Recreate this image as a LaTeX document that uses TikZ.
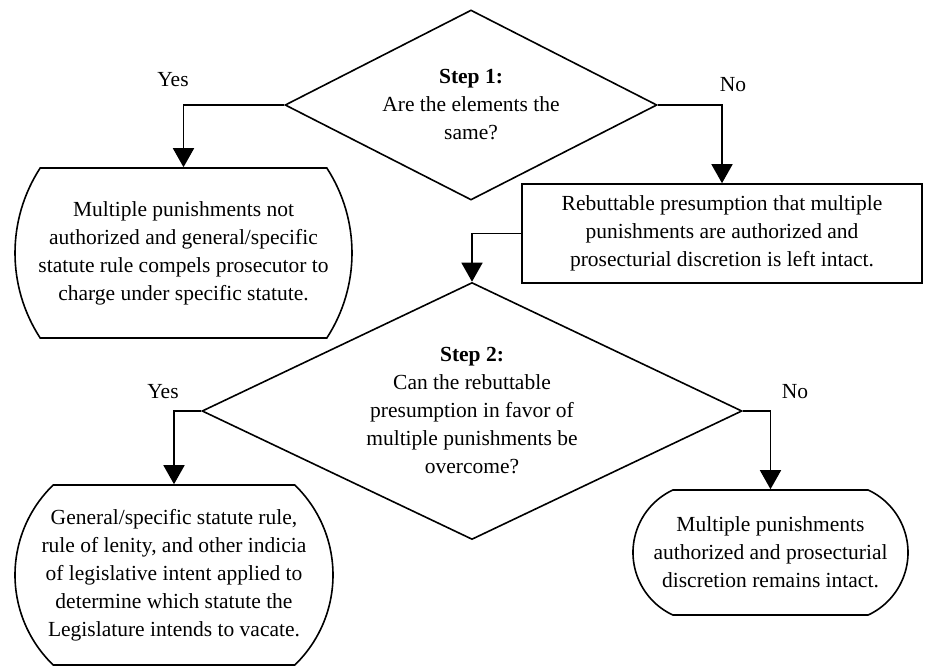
\documentclass[tikz,border=0pt]{standalone}
\usepackage{fontspec}
\setmainfont{Liberation Serif}
\usepackage{tikz}
\usetikzlibrary{arrows.meta,positioning,shapes.geometric,shapes.misc}

\begin{document}
\begin{tikzpicture}[
  x=1pt, y=1pt, >={Triangle[length=19pt, width=21pt]},
  font=\fontsize{21.5}{28}\selectfont,
  box/.style={line width=1.6pt, align=center, inner sep=0pt},
  stepbox/.style={box, diamond, draw},
  endbox/.style={box, rounded rectangle, draw},
  rectbox/.style={box, rectangle, draw},
  lbl/.style={inner sep=0pt},
  arr/.style={->, line width=1.6pt}]

  \useasboundingbox (0,0) rectangle (926,-667);

  \node[stepbox, minimum width=372pt, minimum height=190pt, shape aspect=2] (d1) at (471,-105)
    {\textbf{Step 1:}\\ Are the elements the\\ same?};

  \node[endbox, minimum width=337pt, minimum height=170pt, rounded rectangle arc length=66] (b1) at (183.5,-253)
    {Multiple punishments not\\ authorized and general/specific\\ statute rule compels prosecutor to\\ charge under specific statute.};

  \node[rectbox, minimum width=400pt, minimum height=99pt] (b2) at (722,-233.5)
    {Rebuttable presumption that multiple\\ punishments are authorized and\\ prosecturial discretion is left intact.};

  \node[stepbox, minimum width=540pt, minimum height=257pt, shape aspect=2.1] (d2) at (472,-411)
    {\textbf{Step 2:}\\ Can the rebuttable\\ presumption in favor of\\ multiple punishments be\\ overcome?};

  \node[endbox, minimum width=318pt, minimum height=180pt, rounded rectangle arc length=92] (b3) at (174,-575)
    {General/specific statute rule,\\ rule of lenity, and other indicia\\ of legislative intent applied to\\ determine which statute the\\ Legislature intends to vacate.};

  \node[endbox, minimum width=275pt, minimum height=125pt, rounded rectangle arc length=130] (b4) at (770.5,-552.5)
    {Multiple punishments\\ authorized and prosecturial\\ discretion remains intact.};

  \node[lbl] (y1) at (173,-80) {Yes};
  \node[lbl] (n1) at (733,-85) {No};
  \node[lbl] (y2) at (163,-392) {Yes};
  \node[lbl] (n2) at (795,-392) {No};

  % connectors
  \draw[arr] (d1.west) -| (b1.north);
  \draw[arr] (d1.east) -| (b2.north);
  \draw[arr] (b2.west) -| (d2.north);
  \draw[arr] (d2.west) -| (b3.north);
  \draw[arr] (d2.east) -| (b4.north);
\end{tikzpicture}
\end{document}
